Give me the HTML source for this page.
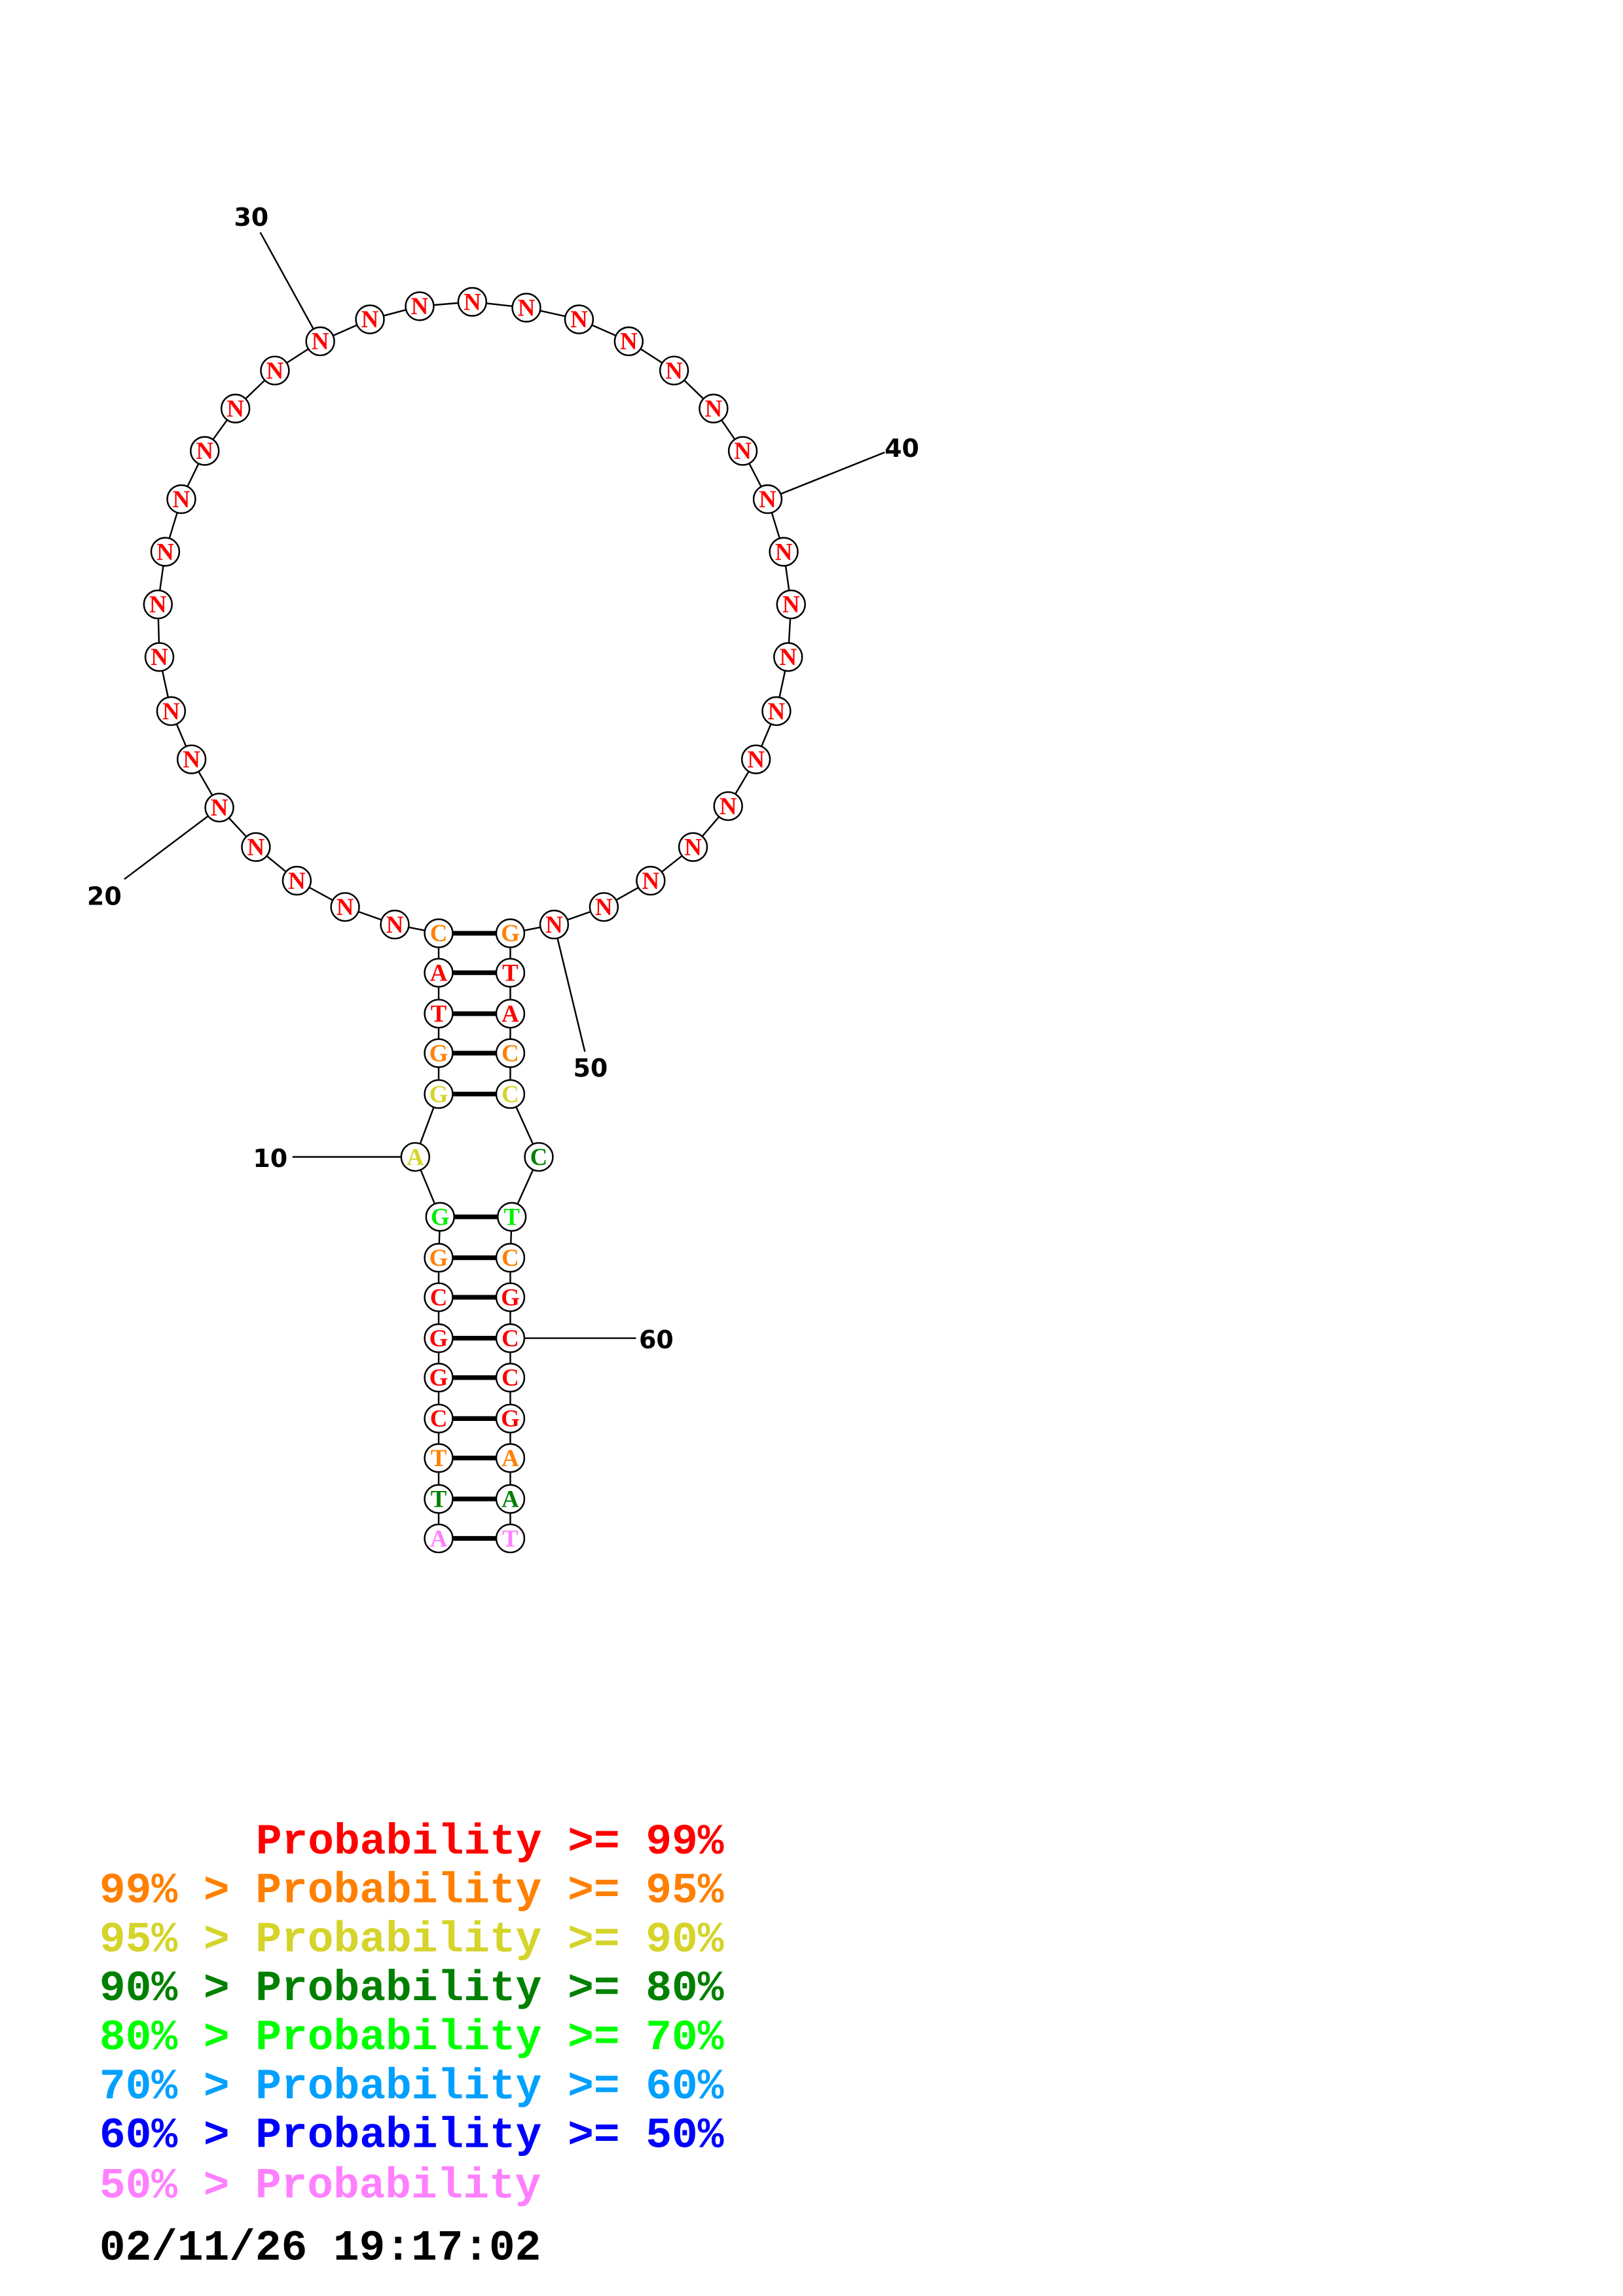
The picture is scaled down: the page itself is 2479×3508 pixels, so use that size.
<!DOCTYPE html>
<html><head><meta charset="utf-8"><style>
html,body{margin:0;padding:0;background:#fff}
svg{display:block}
.n{font-family:"Liberation Serif",serif;font-weight:bold;font-size:16.5px;text-anchor:middle}
.l{font-family:"DejaVu Sans","Liberation Sans",sans-serif;font-weight:bold;font-size:17px}
.g{font-family:"Liberation Mono",monospace;font-weight:bold;font-size:29.6px}
</style></head><body>
<svg width="2479" height="3508" viewBox="0 0 1110 1570.8" xmlns="http://www.w3.org/2000/svg">
<rect width="1110" height="1571" fill="#fff"/>
<g transform="translate(0,1.5)">
<g stroke="#000" stroke-width="1.1" fill="none">
<polyline points="300,1051 300,1024 300,996 300,969 300,941 300,914 300,886 300,859 301,831 284,790 300,747 300,719 300,692 300,664 300,637 270,631 236,619 203,601 175,578 150,551 131,518 117,485 109,448 108,412 113,376 124,340 140,307 161,278 188,252 219,232 253,217 287,208 323,205 360,209 396,217 430,232 461,252 488,278 508,307 525,340 536,376 541,412 539,448 531,485 517,518 498,550 474,578 445,601 413,619 379,631 349,637 349,664 349,692 349,719 349,747 368.5,790 350,831 349,859 349,886 349,914 349,941 349,969 349,996 349,1024 349,1051"/>
<line x1="178" y1="157.5" x2="219" y2="232"/>
<line x1="605" y1="308" x2="525" y2="340"/>
<line x1="85" y1="600" x2="150" y2="551"/>
<line x1="400" y1="718" x2="379" y2="631"/>
<line x1="200" y1="790" x2="284" y2="790"/>
<line x1="349" y1="914" x2="435" y2="914"/>
</g>
<g stroke="#000" stroke-width="3.2">
<line x1="300" y1="637" x2="349" y2="637"/><line x1="300" y1="664" x2="349" y2="664"/><line x1="300" y1="692" x2="349" y2="692"/><line x1="300" y1="719" x2="349" y2="719"/><line x1="300" y1="747" x2="349" y2="747"/>
<line x1="301" y1="831" x2="350" y2="831"/><line x1="300" y1="859" x2="349" y2="859"/><line x1="300" y1="886" x2="349" y2="886"/><line x1="300" y1="914" x2="349" y2="914"/><line x1="300" y1="941" x2="349" y2="941"/><line x1="300" y1="969" x2="349" y2="969"/><line x1="300" y1="996" x2="349" y2="996"/><line x1="300" y1="1024" x2="349" y2="1024"/><line x1="300" y1="1051" x2="349" y2="1051"/>
</g>
<g fill="#fff" stroke="#000" stroke-width="1.1">
<circle cx="300" cy="1051" r="9.6"/><circle cx="300" cy="1024" r="9.6"/><circle cx="300" cy="996" r="9.6"/><circle cx="300" cy="969" r="9.6"/><circle cx="300" cy="941" r="9.6"/><circle cx="300" cy="914" r="9.6"/><circle cx="300" cy="886" r="9.6"/><circle cx="300" cy="859" r="9.6"/><circle cx="301" cy="831" r="9.6"/><circle cx="284" cy="790" r="9.6"/><circle cx="300" cy="747" r="9.6"/><circle cx="300" cy="719" r="9.6"/><circle cx="300" cy="692" r="9.6"/><circle cx="300" cy="664" r="9.6"/><circle cx="300" cy="637" r="9.6"/>
<circle cx="270" cy="631" r="9.6"/><circle cx="236" cy="619" r="9.6"/><circle cx="203" cy="601" r="9.6"/><circle cx="175" cy="578" r="9.6"/><circle cx="150" cy="551" r="9.6"/><circle cx="131" cy="518" r="9.6"/><circle cx="117" cy="485" r="9.6"/><circle cx="109" cy="448" r="9.6"/><circle cx="108" cy="412" r="9.6"/><circle cx="113" cy="376" r="9.6"/><circle cx="124" cy="340" r="9.6"/><circle cx="140" cy="307" r="9.6"/><circle cx="161" cy="278" r="9.6"/><circle cx="188" cy="252" r="9.6"/><circle cx="219" cy="232" r="9.6"/><circle cx="253" cy="217" r="9.6"/><circle cx="287" cy="208" r="9.6"/><circle cx="323" cy="205" r="9.6"/><circle cx="360" cy="209" r="9.6"/><circle cx="396" cy="217" r="9.6"/><circle cx="430" cy="232" r="9.6"/><circle cx="461" cy="252" r="9.6"/><circle cx="488" cy="278" r="9.6"/><circle cx="508" cy="307" r="9.6"/><circle cx="525" cy="340" r="9.6"/><circle cx="536" cy="376" r="9.6"/><circle cx="541" cy="412" r="9.6"/><circle cx="539" cy="448" r="9.6"/><circle cx="531" cy="485" r="9.6"/><circle cx="517" cy="518" r="9.6"/><circle cx="498" cy="550" r="9.6"/><circle cx="474" cy="578" r="9.6"/><circle cx="445" cy="601" r="9.6"/><circle cx="413" cy="619" r="9.6"/><circle cx="379" cy="631" r="9.6"/>
<circle cx="349" cy="637" r="9.6"/><circle cx="349" cy="664" r="9.6"/><circle cx="349" cy="692" r="9.6"/><circle cx="349" cy="719" r="9.6"/><circle cx="349" cy="747" r="9.6"/><circle cx="368.5" cy="790" r="9.6"/><circle cx="350" cy="831" r="9.6"/><circle cx="349" cy="859" r="9.6"/><circle cx="349" cy="886" r="9.6"/><circle cx="349" cy="914" r="9.6"/><circle cx="349" cy="941" r="9.6"/><circle cx="349" cy="969" r="9.6"/><circle cx="349" cy="996" r="9.6"/><circle cx="349" cy="1024" r="9.6"/><circle cx="349" cy="1051" r="9.6"/>
</g>
<g class="n">
<text x="300" y="1056.5" fill="#ff80ff">A</text><text x="300" y="1029.5" fill="#008000">T</text><text x="300" y="1001.5" fill="#ff8000">T</text><text x="300" y="974.5" fill="#f00">C</text><text x="300" y="946.5" fill="#f00">G</text><text x="300" y="919.5" fill="#f00">G</text><text x="300" y="891.5" fill="#f00">C</text><text x="300" y="864.5" fill="#ff8000">G</text><text x="301" y="836.5" fill="#00ee00">G</text><text x="284" y="795.5" fill="#d4d42a">A</text><text x="300" y="752.5" fill="#d4d42a">G</text><text x="300" y="724.5" fill="#ff8000">G</text><text x="300" y="697.5" fill="#f00">T</text><text x="300" y="669.5" fill="#f00">A</text><text x="300" y="642.5" fill="#ff8000">C</text>
<g fill="#f00">
<text x="270" y="636.5">N</text><text x="236" y="624.5">N</text><text x="203" y="606.5">N</text><text x="175" y="583.5">N</text><text x="150" y="556.5">N</text><text x="131" y="523.5">N</text><text x="117" y="490.5">N</text><text x="109" y="453.5">N</text><text x="108" y="417.5">N</text><text x="113" y="381.5">N</text><text x="124" y="345.5">N</text><text x="140" y="312.5">N</text><text x="161" y="283.5">N</text><text x="188" y="257.5">N</text><text x="219" y="237.5">N</text><text x="253" y="222.5">N</text><text x="287" y="213.5">N</text><text x="323" y="210.5">N</text><text x="360" y="214.5">N</text><text x="396" y="222.5">N</text><text x="430" y="237.5">N</text><text x="461" y="257.5">N</text><text x="488" y="283.5">N</text><text x="508" y="312.5">N</text><text x="525" y="345.5">N</text><text x="536" y="381.5">N</text><text x="541" y="417.5">N</text><text x="539" y="453.5">N</text><text x="531" y="490.5">N</text><text x="517" y="523.5">N</text><text x="498" y="555.5">N</text><text x="474" y="583.5">N</text><text x="445" y="606.5">N</text><text x="413" y="624.5">N</text><text x="379" y="636.5">N</text>
</g>
<text x="349" y="642.5" fill="#ff8000">G</text><text x="349" y="669.5" fill="#f00">T</text><text x="349" y="697.5" fill="#f00">A</text><text x="349" y="724.5" fill="#ff8000">C</text><text x="349" y="752.5" fill="#d4d42a">C</text><text x="368.5" y="795.5" fill="#008000">C</text><text x="350" y="836.5" fill="#00ee00">T</text><text x="349" y="864.5" fill="#ff8000">C</text><text x="349" y="891.5" fill="#f00">G</text><text x="349" y="919.5" fill="#f00">C</text><text x="349" y="946.5" fill="#f00">C</text><text x="349" y="974.5" fill="#f00">G</text><text x="349" y="1001.5" fill="#ff8000">A</text><text x="349" y="1029.5" fill="#008000">A</text><text x="349" y="1056.5" fill="#ff80ff">T</text>
</g>
<g class="l" fill="#000">
<text x="160" y="153">30</text>
<text x="605" y="311">40</text>
<text x="59.5" y="617.5">20</text>
<text x="392" y="735">50</text>
<text x="173" y="797">10</text>
<text x="437" y="921">60</text>
</g>
</g>
<g class="g">
<text x="175" y="1268" fill="#f00" textLength="320" lengthAdjust="spacingAndGlyphs">Probability &gt;= 99%</text>
<text x="68" y="1301.5" fill="#ff8000" textLength="427" lengthAdjust="spacingAndGlyphs">99% &gt; Probability &gt;= 95%</text>
<text x="68" y="1335" fill="#d4d42a" textLength="427" lengthAdjust="spacingAndGlyphs">95% &gt; Probability &gt;= 90%</text>
<text x="68" y="1368.5" fill="#008000" textLength="427" lengthAdjust="spacingAndGlyphs">90% &gt; Probability &gt;= 80%</text>
<text x="68" y="1402" fill="#00ff00" textLength="427" lengthAdjust="spacingAndGlyphs">80% &gt; Probability &gt;= 70%</text>
<text x="68" y="1435.5" fill="#00a0ff" textLength="427" lengthAdjust="spacingAndGlyphs">70% &gt; Probability &gt;= 60%</text>
<text x="68" y="1469" fill="#0000ff" textLength="427" lengthAdjust="spacingAndGlyphs">60% &gt; Probability &gt;= 50%</text>
<text x="68" y="1503.5" fill="#ff80ff" textLength="302" lengthAdjust="spacingAndGlyphs">50% &gt; Probability</text>
<text x="68" y="1546" fill="#000" textLength="302" lengthAdjust="spacingAndGlyphs">02/11/26 19:17:02</text>
</g>
</svg>
</body></html>
